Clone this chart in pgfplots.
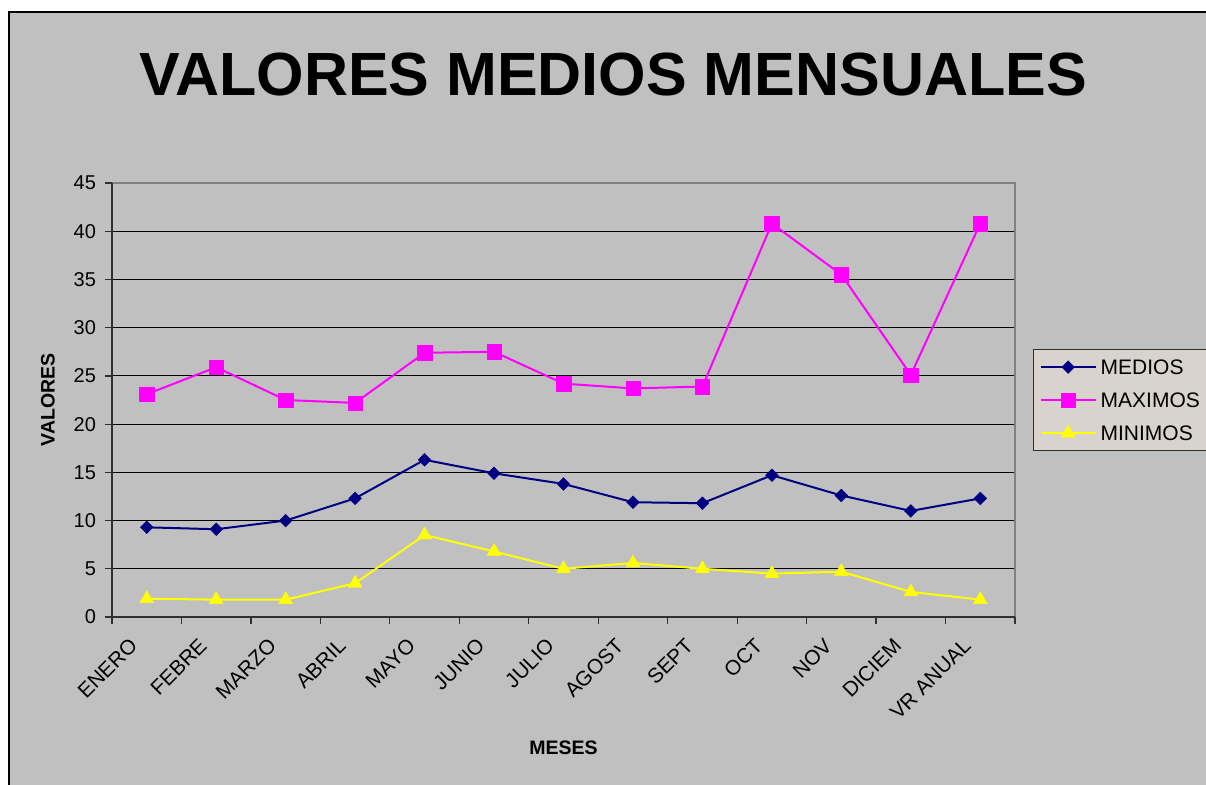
\documentclass[border=0pt]{standalone}
\usepackage{pgfplots}
\pgfplotsset{compat=1.18}
\usepackage{fontspec}
\setmainfont{Liberation Sans}
\definecolor{chartgray}{RGB}{192,192,192}
\definecolor{legfill}{RGB}{217,211,205}
\definecolor{navyc}{RGB}{0,0,128}
\definecolor{magc}{RGB}{255,0,255}
\definecolor{yelc}{RGB}{255,255,0}
\definecolor{bordgray}{RGB}{128,128,128}
\definecolor{axdark}{RGB}{48,48,48}
\begin{document}
\begin{tikzpicture}[x=1pt,y=1pt]
\useasboundingbox (0,0) rectangle (603,392);
\fill[white] (0,0) rectangle (603,392);
\draw[black, fill=chartgray, line width=0.75pt] (4.5,-10) rectangle (620,386);
\node[font=\fontsize{30.5}{34}\selectfont\bfseries] at (306.5,354.5) {VALORES MEDIOS MENSUALES};
\begin{axis}[
  at={(56pt,83.5pt)}, anchor=south west,
  scale only axis, width=451.5pt, height=217pt,
  xmin=-0.5, xmax=12.5, ymin=0, ymax=45,
  xtick={0,...,12},
  xticklabels={ENERO,FEBRE,MARZO,ABRIL,MAYO,JUNIO,JULIO,AGOST,SEPT,OCT,NOV,DICIEM,VR ANUAL},
  minor xtick={-0.5,0.5,...,12.5},
  ytick={0,5,...,45},
  tick align=outside,
  major tick length=3.5pt, minor tick length=3.5pt,
  x tick style={draw=none},
  minor x tick style={draw=axdark, line width=0.6pt},
  y tick style={draw=axdark, line width=0.6pt},
  xtick pos=bottom, ytick pos=left,
  axis line style={draw=none},
  ymajorgrids, grid style={black, line width=0.5pt},
  /pgf/number format/assume math mode=true,
  ticklabel style={font=\fontsize{10}{12}\selectfont},
  xticklabel style={rotate=45, anchor=east, xshift=-7.6pt, yshift=-1.8pt, font=\fontsize{10.4}{12}\selectfont},
  yticklabel style={xshift=-1pt},
  xlabel={MESES}, ylabel={VALORES},
  label style={font=\fontsize{9.75}{12}\selectfont\bfseries},
  xlabel style={at={(0.5,-0.302)}, anchor=center},
  ylabel style={at={(-0.0709,0.5)}, anchor=center},
  legend style={at={(1.02,0.6175)}, anchor=north west, fill=legfill, draw=axdark, line width=0.6pt,
    font=\fontsize{10.5}{12}\selectfont, inner sep=3pt, row sep=5pt,
    nodes={inner sep=2pt, text height=7.5pt, text depth=0pt},
    /tikz/every even column/.append style={column sep=1pt}},
  legend cell align=left,
  legend image code/.code={\draw[mark repeat=2,mark phase=2,#1] plot coordinates {(0pt,0pt) (13.75pt,0pt) (27.5pt,0pt)};},
  clip=false,
]
\addplot[navyc, line width=1pt, mark=square*, mark size=2.25pt, mark options={rotate=45, fill=navyc, draw=navyc, line width=0.2pt}]
coordinates {(0,9.3) (1,9.1) (2,10.0) (3,12.3) (4,16.3) (5,14.9) (6,13.8) (7,11.9) (8,11.8) (9,14.7) (10,12.6) (11,11.0) (12,12.3)};
\addlegendentry{MEDIOS}
\addplot[magc, line width=1pt, mark=square*, mark size=3.6pt, mark options={fill=magc, draw=magc, line width=0.2pt}]
coordinates {(0,23.1) (1,25.9) (2,22.5) (3,22.2) (4,27.4) (5,27.5) (6,24.2) (7,23.7) (8,23.9) (9,40.8) (10,35.5) (11,25.1) (12,40.8)};
\addlegendentry{MAXIMOS}
\addplot[yelc, line width=1pt, mark=triangle*, mark size=4pt, mark options={fill=yelc, draw=yelc, line width=0.2pt}]
coordinates {(0,1.9) (1,1.8) (2,1.8) (3,3.5) (4,8.5) (5,6.8) (6,5.0) (7,5.6) (8,5.0) (9,4.5) (10,4.7) (11,2.6) (12,1.8)};
\addlegendentry{MINIMOS}
\draw[bordgray, line width=1pt] (rel axis cs:0,1) -- (rel axis cs:1,1) -- (rel axis cs:1,0);
\draw[axdark, line width=1pt] (rel axis cs:0,1) -- (rel axis cs:0,0) -- (rel axis cs:1,0);
\end{axis}
\end{tikzpicture}
\end{document}
